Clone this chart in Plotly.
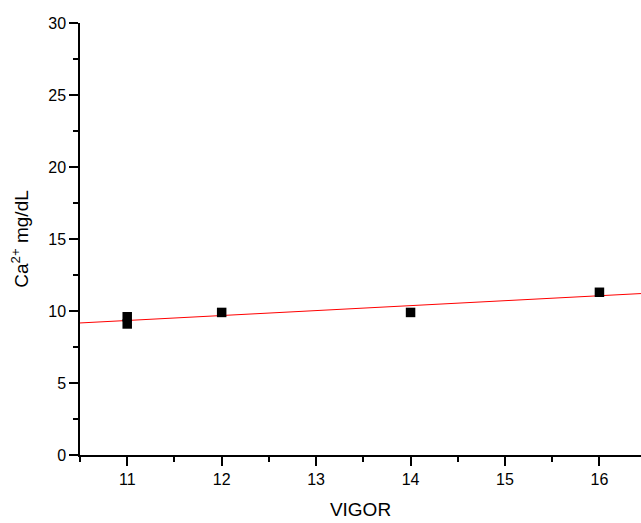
import numpy as np
import plotly.graph_objects as go

vigor = [11, 11, 12, 14, 16]
calcium = [9.6, 9.1, 9.9, 9.9, 11.3]
x_ticks = [11, 12, 13, 14, 15, 16]
y_ticks = [0, 5, 10, 15, 20, 25, 30]

x_range = [10.5, 16.44]
slope, intercept = np.polyfit(vigor, calcium, 1)
fit_x = np.array(x_range)
fit_y = slope * fit_x + intercept

fig = go.Figure()
fig.add_trace(go.Scatter(x=fit_x, y=fit_y, mode="lines",
                         line=dict(color="red", width=1), showlegend=False))
fig.add_trace(go.Scatter(x=vigor, y=calcium, mode="markers",
                         marker=dict(symbol="square", size=9.5, color="black",
                                     line=dict(width=0)),
                         showlegend=False))

font = "Liberation Sans, Arial, sans-serif"
fig.update_layout(
    width=641, height=523,
    margin=dict(l=80, r=0, t=23, b=68),
    plot_bgcolor="white", paper_bgcolor="white",
    font=dict(family=font, size=16, color="black"),
    xaxis=dict(range=x_range, tickvals=x_ticks, ticks="outside", ticklen=9,
               tickwidth=1.5, tickcolor="black", showline=True, linecolor="black",
               linewidth=1.5, showgrid=False, zeroline=False,
               minor=dict(ticks="outside", ticklen=5, dtick=0.5, tick0=0,
                          tickcolor="black", tickwidth=1.5, showgrid=False),
               title=dict(text="VIGOR", font=dict(size=19), standoff=16),
               tickfont=dict(size=16), automargin=False),
    yaxis=dict(range=[0, 30], tickvals=y_ticks, ticks="outside", ticklen=9,
               tickwidth=1.5, tickcolor="black", showline=True, linecolor="black",
               linewidth=1.5, showgrid=False, zeroline=False,
               minor=dict(ticks="outside", ticklen=5, dtick=2.5, tick0=0,
                          tickcolor="black", tickwidth=1.5, showgrid=False),
               title=dict(text="Ca<sup>2+</sup> mg/dL", font=dict(size=19), standoff=15),
               tickfont=dict(size=16), automargin=False),
)
fig.write_html("out.html", config={"displayModeBar": False},
               post_script="document.body.style.margin='0';document.body.style.overflow='hidden';")
